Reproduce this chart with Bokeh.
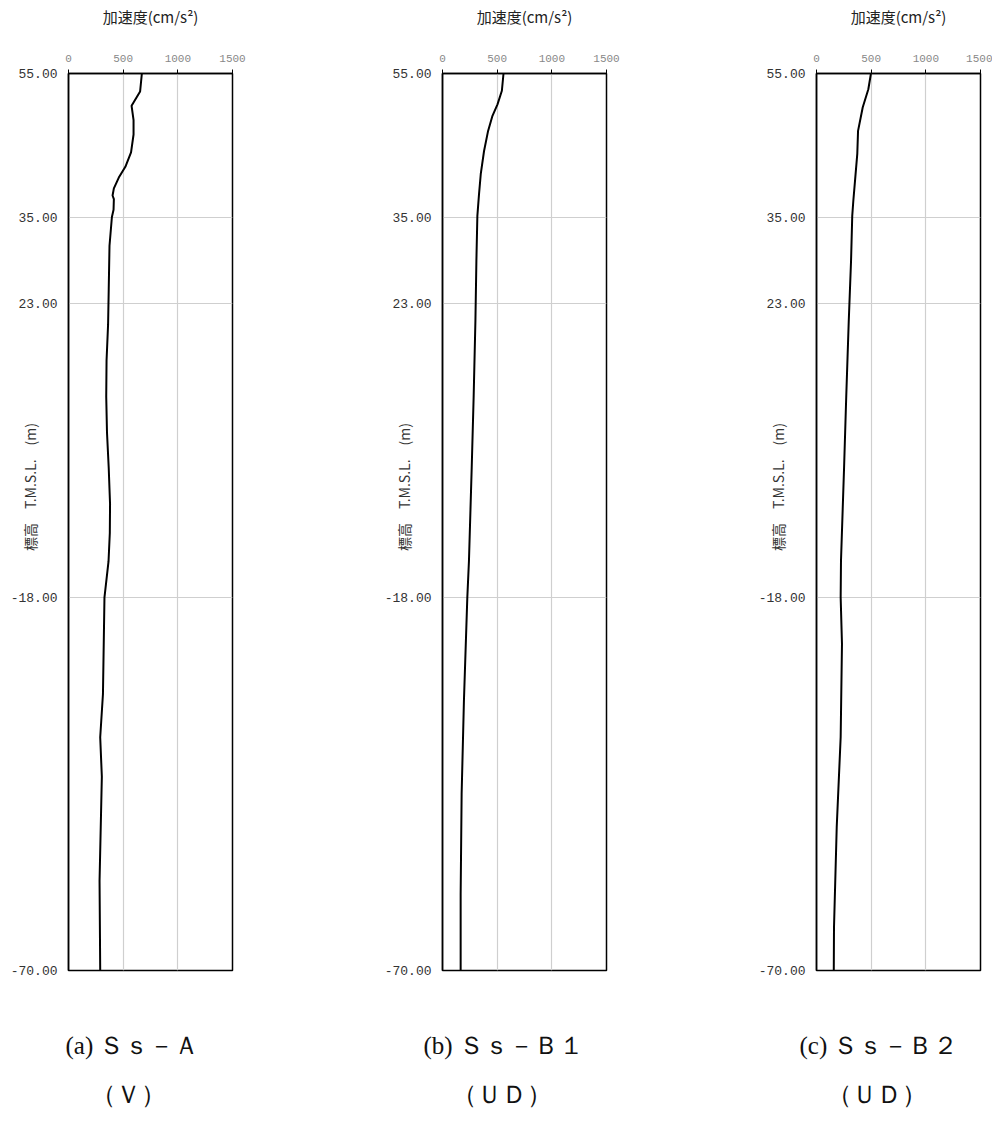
import math
from bokeh.plotting import figure
from bokeh.layouts import row
from bokeh.models import Range1d, FixedTicker, PrintfTickFormatter, Title
from bokeh.embed import file_html
from bokeh.resources import INLINE

# ---- data (elevation T.M.S.L. m, acceleration cm/s2) ----
elev_a = [55, 52.5, 50.5, 48.5, 46.5, 44, 42, 40.5, 39, 38, 37.5, 36, 35, 31, 25, 20,
          15, 10, 5, 0, -5, -9, -13, -18, -31.5, -37.5, -43, -57.5, -70]
acc_a = [671, 655, 577, 595, 595, 572, 520, 460, 415, 403, 415, 412, 397, 375, 368, 362,
         348, 345, 352, 368, 380, 378, 366, 329, 315, 290, 305, 284, 290]

elev_b = [55, 52.6, 50.7, 49.1, 47, 44.2, 41, 38.2, 35.2, 28.9, 20.5, 10, 0, -12.9, -18,
          -32.4, -45.4, -59.3, -70]
acc_b = [558, 543, 503, 457, 417, 380, 350, 334, 319, 310, 301, 285, 267, 242, 227,
         196, 175, 166, 166]

elev_c = [55, 52.8, 50.3, 47, 43.8, 40, 37.3, 35.2, 28.9, 20.5, 10, 0, -12.9, -18,
          -24.5, -37.5, -50, -64, -70]
acc_c = [498, 474, 423, 380, 373, 352, 337, 327, 316, 295, 272, 252, 224, 221,
         233, 221, 185, 160, 158]

y_ticks = [-70, -18, 23, 35, 55]
x_ticks = [0, 500, 1000, 1500]
x_title = "加速度(cm/s²)"
y_title = "\u3000\u3000\u3000\u3000\u3000標高　T.M.S.L.　(m)"
captions = [("(a) Ｓｓ－Ａ", "（Ｖ）"), ("(b) Ｓｓ－Ｂ１", "（ＵＤ）"), ("(c) Ｓｓ－Ｂ２", "（ＵＤ）")]
series = [(elev_a, acc_a), (elev_b, acc_b), (elev_c, acc_c)]
cap_offsets = [(-3, 22), (-19, 9), (-17, 10)]

JP = "Noto Sans CJK JP"
MONO = "Liberation Mono"
SERIF = "Liberation Serif"


def make_panel(elev, acc, cap1, cap2, offs, right_border):
    p = figure(output_backend="svg", toolbar_location=None,
               frame_width=164, frame_height=897,
               min_border_left=68, min_border_right=right_border,
               min_border_top=73, min_border_bottom=150,
               x_range=Range1d(0, 1500), y_range=Range1d(-70, 55),
               x_axis_location="above")
    p.background_fill_color = "white"
    p.border_fill_color = "white"
    p.outline_line_color = "black"
    p.outline_line_width = 1.5

    # top axis
    xa = p.xaxis[0]
    xa.ticker = FixedTicker(ticks=x_ticks)
    xa.axis_line_color = "black"
    xa.axis_line_width = 1.5
    xa.major_tick_in = 0
    xa.major_tick_out = 4
    xa.major_tick_line_color = "black"
    xa.minor_tick_line_color = None
    xa.major_label_text_font = MONO
    xa.major_label_text_font_size = "11px"
    xa.major_label_text_color = "#888888"
    xa.major_label_standoff = 8
    xa.axis_label = x_title
    xa.axis_label_text_font = JP
    xa.axis_label_text_font_size = "15px"
    xa.axis_label_text_font_style = "normal"
    xa.axis_label_text_color = "#222222"
    xa.axis_label_standoff = 25

    # left axis
    ya = p.yaxis[0]
    ya.ticker = FixedTicker(ticks=y_ticks)
    ya.formatter = PrintfTickFormatter(format="%.2f")
    ya.axis_line_color = "black"
    ya.axis_line_width = 1.5
    ya.major_tick_in = 0
    ya.major_tick_out = 0
    ya.minor_tick_line_color = None
    ya.major_label_text_font = MONO
    ya.major_label_text_font_size = "13px"
    ya.major_label_text_color = "#333333"
    ya.major_label_standoff = 11
    ya.axis_label = y_title
    ya.axis_label_text_font = JP
    ya.axis_label_text_font_size = "14px"
    ya.axis_label_text_font_style = "normal"
    ya.axis_label_text_color = "#333333"
    ya.axis_label_standoff = -32

    p.xgrid.ticker = FixedTicker(ticks=[500, 1000])
    p.ygrid.ticker = FixedTicker(ticks=[-18, 23, 35])
    p.xgrid.grid_line_color = "#cfcfcf"
    p.ygrid.grid_line_color = "#cfcfcf"
    p.xgrid.grid_line_width = 1.2
    p.ygrid.grid_line_width = 1.2

    p.line(acc, elev, line_color="black", line_width=2)

    # blank spacer between the frame and the captions
    p.add_layout(Title(text="\u3000", align="left", text_font=JP,
                       text_font_size="10px", text_color="white",
                       standoff=25), "below")
    p.add_layout(Title(text=cap1, align="left", offset=offs[0], text_font=SERIF,
                       text_font_size="25px", text_font_style="normal",
                       text_color="#111111", standoff=35), "below")
    p.add_layout(Title(text=cap2, align="left", offset=offs[1], text_font=SERIF,
                       text_font_size="25px", text_font_style="normal",
                       text_color="#111111", standoff=4), "below")
    return p


panels = []
for i, ((e, a), (c1, c2)) in enumerate(zip(series, captions)):
    rb = 142 if i < 2 else 12
    panels.append(make_panel(e, a, c1, c2, cap_offsets[i], rb))

layout = row(*panels)
open("out.html", "w").write(file_html(layout, INLINE))
